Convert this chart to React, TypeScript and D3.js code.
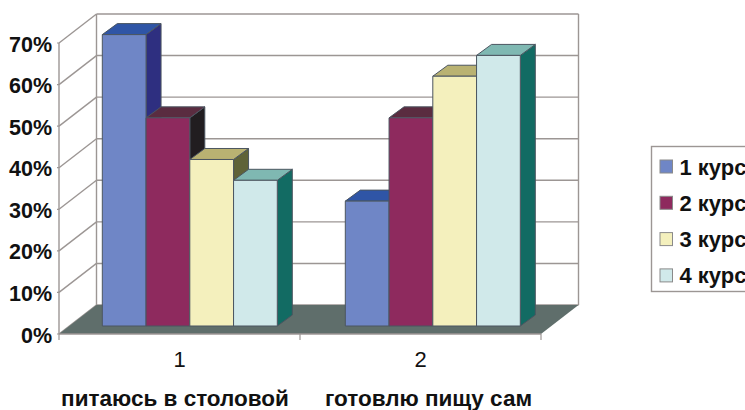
import React from "react";
import * as d3 from "d3";

const categories = ["1", "2"];
const categoryNames = ["питаюсь в столовой", "готовлю пищу сам"];
const seriesNames = ["1 курс", "2 курс", "3 курс", "4 курс"];
const course1 = [70, 30];
const course2 = [50, 50];
const course3 = [40, 60];
const course4 = [35, 65];
const seriesValues = [course1, course2, course3, course4];
const frontColors = ["#6f86c6", "#8e2a5e", "#f4f0bd", "#d0e9ea"];
const topColors = ["#2f55a6", "#5a2c40", "#b9b272", "#7fb8b2"];
const sideColors = ["#2e2f80", "#211d20", "#5f6338", "#126b63"];
const yTicks = [0, 10, 20, 30, 40, 50, 60, 70];

const W = 745;
const H = 410;
const FONT = "'Liberation Sans', Arial, sans-serif";
const GRID = "#9c9694";

// Front edge of the floor and the oblique offset to the back wall
const frontLeft = 59;
const frontRight = 541;
const frontBase = 334;
const depthX = 37.5;
const depthY = -29;

const xGroup = d3.scaleBand<string>().domain(categories).range([frontLeft, frontRight]);
const yFront = d3.scaleLinear().domain([0, 70]).range([frontBase, 43]);
const yBack = d3.scaleLinear().domain([0, 70]).range([frontBase + depthY, 14]);
const yBar = d3.scaleLinear().domain([0, 70]).range([326, 34.6]);

// Bars sit on a plane set back from the floor's front edge
const xBarGroup = d3.scaleBand<string>().domain(categories).range([69.3, 555.3]);
const xSeries = d3.scaleBand<number>().domain(d3.range(seriesNames.length)).range([33, 208]);
const barDepthX = 15;
const barDepthY = -11;

const poly = (pts: [number, number][]) => pts.map((p) => p.join(",")).join(" ");

export default function App() {
  return (
    <svg
      width={W}
      height={H}
      viewBox={`0 0 ${W} ${H}`}
      style={{ position: "absolute", left: 0, top: 0, background: "#fff" }}
      fontFamily={FONT}
    >
      {/* Back wall gridlines and the side wall lines */}
      {yTicks.map((t) => (
        <g key={t} stroke={GRID} strokeWidth={1.4} fill="none">
          <line x1={frontLeft} y1={yFront(t)} x2={frontLeft + depthX} y2={yBack(t)} />
          <line x1={frontLeft + depthX} y1={yBack(t)} x2={frontRight + depthX} y2={yBack(t)} />
        </g>
      ))}
      <line x1={frontLeft + depthX} y1={yBack(0)} x2={frontLeft + depthX} y2={yBack(70)} stroke={GRID} strokeWidth={1.4} />
      <line x1={frontRight + depthX} y1={yBack(0)} x2={frontRight + depthX} y2={yBack(70)} stroke={GRID} strokeWidth={1.4} />

      {/* Floor */}
      <polygon
        points={poly([
          [frontLeft, frontBase],
          [frontLeft + depthX, frontBase + depthY],
          [frontRight + depthX, frontBase + depthY],
          [frontRight, frontBase],
        ])}
        fill="#5f6e6b"
      />

      {/* Value axis */}
      <line x1={frontLeft} y1={yFront(0)} x2={frontLeft} y2={yFront(70)} stroke={GRID} strokeWidth={1.4} />
      {yTicks.map((t) => (
        <g key={t}>
          <line x1={frontLeft - 2} y1={yFront(t)} x2={frontLeft} y2={yFront(t)} stroke={GRID} strokeWidth={1.2} />
          <text
            x={52}
            y={yFront(t) + 8.5}
            textAnchor="end"
            fontSize={21.5}
            fontWeight={700}
            fill="#111"
          >
            {t}%
          </text>
        </g>
      ))}

      {/* Category axis */}
      <line x1={frontLeft} y1={frontBase} x2={frontRight} y2={frontBase} stroke={GRID} strokeWidth={1.4} />
      {[frontLeft, frontLeft + xGroup.bandwidth(), frontRight].map((x) => (
        <line key={x} x1={x} y1={frontBase} x2={x} y2={frontBase + 6} stroke={GRID} strokeWidth={1.2} />
      ))}
      {categories.map((c) => (
        <text
          key={c}
          x={(xGroup(c) as number) + xGroup.bandwidth() / 2}
          y={367}
          textAnchor="middle"
          fontSize={22}
          fill="#111"
        >
          {c}
        </text>
      ))}
      <text x={175} y={406} textAnchor="middle" fontSize={22.5} fontWeight={700} fill="#111">
        {categoryNames[0]}
      </text>
      <text x={428.5} y={406} textAnchor="middle" fontSize={22.5} fontWeight={700} fill="#111">
        {categoryNames[1]}
      </text>

      {/* Bars, drawn left to right so each front face covers its neighbour's side */}
      {categories.map((c, ci) =>
        seriesValues.map((values, si) => {
          const x0 = (xBarGroup(c) as number) + (xSeries(si) as number);
          const x1 = x0 + xSeries.bandwidth();
          const yT = yBar(values[ci]);
          const yB = yBar(0);
          const edge = { stroke: "#4b5560", strokeWidth: 1, strokeLinejoin: "round" as const };
          return (
            <g key={`${c}-${si}`} {...edge}>
              <polygon
                points={poly([
                  [x1, yT],
                  [x1 + barDepthX, yT + barDepthY],
                  [x1 + barDepthX, yB + barDepthY],
                  [x1, yB],
                ])}
                fill={sideColors[si]}
              />
              <polygon
                points={poly([
                  [x0, yT],
                  [x0 + barDepthX, yT + barDepthY],
                  [x1 + barDepthX, yT + barDepthY],
                  [x1, yT],
                ])}
                fill={topColors[si]}
              />
              <rect x={x0} y={yT} width={x1 - x0} height={yB - yT} fill={frontColors[si]} />
            </g>
          );
        })
      )}

      {/* Legend, running off the right edge of the canvas */}
      <rect x={651.5} y={146.5} width={110} height={145} fill="#fff" stroke={GRID} strokeWidth={1.4} />
      {seriesNames.map((name, i) => {
        const cy = 166.5 + i * 36.3;
        return (
          <g key={name}>
            <rect
              x={660}
              y={cy - 6.5}
              width={12.5}
              height={13}
              fill={frontColors[i]}
              stroke="#8a8a8a"
              strokeWidth={1}
            />
            <text x={679.5} y={cy + 8} fontSize={22} fontWeight={700} fill="#111">
              {name}
            </text>
          </g>
        );
      })}
    </svg>
  );
}
